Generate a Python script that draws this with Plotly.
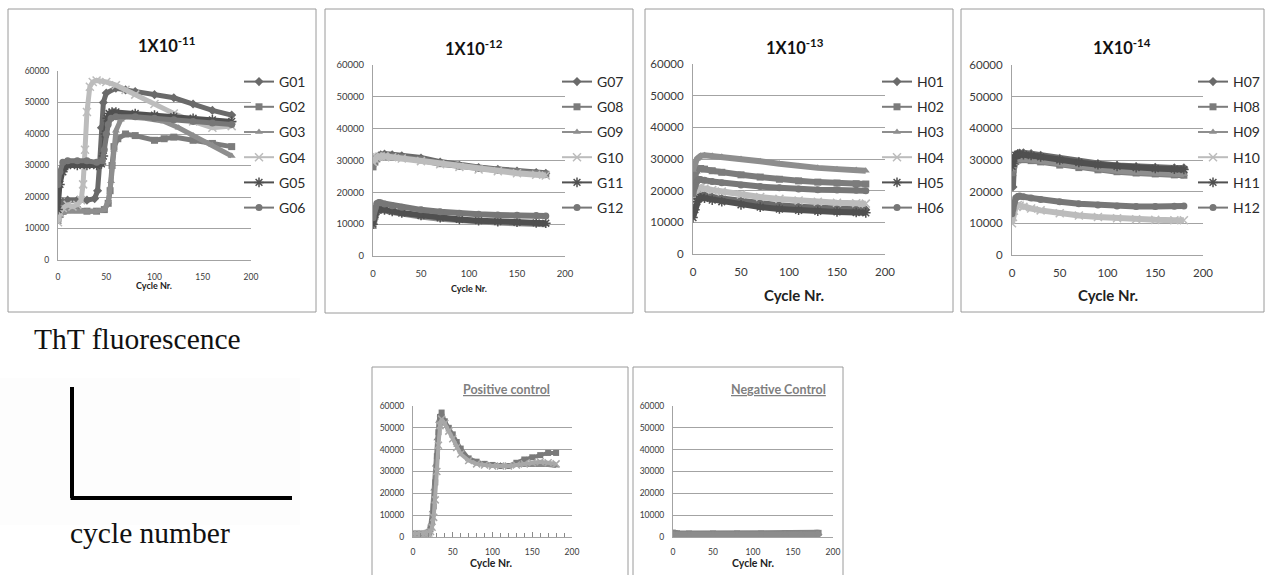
import plotly.graph_objects as go

# ---------------- data ----------------
# Panel 1X10^-11
g01_x = [0, 2, 5, 10, 20, 30, 38, 41, 43, 45, 47, 50, 60, 70, 80, 100, 120, 140, 160, 180]
g01_y = [14000, 17000, 18500, 19000, 19000, 19000, 19500, 22000, 30000, 42000, 50000, 53000, 54500, 54000, 53500, 52500, 51500, 49500, 47500, 46000]
g02_x = [0, 2, 5, 10, 20, 30, 40, 48, 52, 54, 56, 58, 62, 70, 80, 100, 110, 120, 140, 160, 180]
g02_y = [13000, 14500, 15500, 16000, 16000, 15500, 15500, 16000, 18000, 22000, 30000, 36000, 38500, 40000, 39500, 38000, 38500, 39000, 38000, 37000, 36000]
g03_x = [0, 2, 5, 10, 20, 30, 40, 48, 52, 55, 58, 60, 65, 70, 90, 110, 125, 140, 160, 180]
g03_y = [12000, 14000, 15000, 15500, 15500, 15500, 15500, 16000, 18500, 25000, 35000, 41000, 44500, 45500, 45000, 44000, 42000, 39500, 36500, 33000]
g04_x = [0, 2, 5, 10, 15, 20, 24, 26, 28, 30, 33, 36, 40, 50, 60, 70, 80, 100, 120, 140, 160, 180]
g04_y = [12000, 15000, 16500, 17500, 17000, 17500, 19000, 24000, 35000, 47000, 55000, 56500, 57000, 56500, 55500, 54000, 52500, 49500, 46500, 44000, 42000, 42500]
g05_x = [0, 2, 5, 10, 20, 30, 40, 45, 47, 49, 51, 53, 56, 60, 80, 100, 120, 140, 160, 180]
g05_y = [16000, 24000, 28000, 30000, 30000, 30000, 30000, 30500, 33000, 40000, 45000, 46500, 47000, 47000, 46500, 46000, 45500, 45000, 44500, 44000]
g06_x = [0, 2, 5, 10, 20, 30, 40, 46, 48, 50, 52, 55, 60, 80, 100, 120, 140, 160, 180]
g06_y = [24000, 28000, 31000, 31500, 31500, 31500, 31000, 31500, 35000, 40000, 43000, 45000, 45500, 45500, 45000, 44500, 44000, 43500, 43000]

# Panel 1X10^-12
p2_x = [0, 2, 4, 6, 8, 12, 20, 30, 50, 70, 90, 110, 130, 150, 170, 180]
g07_y = [29000, 30500, 31000, 31500, 31800, 32000, 31800, 31500, 30800, 29500, 28500, 27800, 27200, 26700, 26200, 26000]
g08_y = [28000, 29500, 30500, 31000, 31200, 31300, 31200, 30900, 30200, 29000, 28200, 27500, 27000, 26500, 25900, 25700]
g09_y = [9000, 12000, 14000, 14500, 14500, 14300, 13800, 13200, 12400, 11700, 11200, 10800, 10500, 10300, 10100, 10000]
g10_y = [29500, 30500, 31000, 31200, 31300, 31300, 31000, 30600, 29800, 28800, 28000, 27200, 26600, 26000, 25500, 25300]
g11_y = [10000, 13000, 14500, 15000, 14800, 14500, 14000, 13500, 12700, 12000, 11500, 11100, 10800, 10600, 10400, 10300]
g12_y = [12000, 15000, 16500, 16800, 16700, 16300, 15800, 15300, 14500, 13900, 13400, 13100, 12900, 12800, 12700, 12600]

# Panel 1X10^-13
p3_x = [0, 2, 4, 6, 8, 12, 20, 30, 50, 70, 90, 110, 130, 150, 170, 180]
h01_y = [15000, 17000, 18500, 19000, 18800, 18500, 18000, 17500, 16700, 16000, 15400, 14900, 14600, 14300, 14100, 14000]
h02_y = [22000, 25000, 26500, 27000, 27000, 26800, 26300, 25800, 25000, 24300, 23600, 23100, 22700, 22400, 22200, 22100]
h03_y = [26500, 28500, 30000, 30500, 31000, 31200, 31000, 30700, 30000, 29300, 28500, 27700, 27200, 26800, 26500, 26300]
h04_y = [16000, 19000, 20500, 21000, 21000, 20700, 20200, 19700, 18800, 18000, 17400, 16900, 16500, 16200, 16000, 15900]
h05_y = [11500, 14000, 16500, 17500, 17800, 17600, 17000, 16500, 15500, 14800, 14200, 13800, 13500, 13300, 13100, 13000]
h06_y = [19000, 21500, 23000, 23500, 23500, 23300, 22900, 22500, 21800, 21300, 20900, 20500, 20300, 20200, 20100, 20000]

# Panel 1X10^-14
p4_x = [0, 1, 2, 4, 6, 8, 12, 20, 30, 50, 70, 90, 110, 130, 150, 170, 180]
h07_y = [25000, 21500, 29000, 31500, 32000, 32200, 32300, 32000, 31500, 30500, 29600, 28900, 28300, 27900, 27700, 27500, 27500]
h08_y = [26000, 27000, 28500, 29500, 30000, 30200, 30100, 29800, 29400, 28400, 27600, 26900, 26300, 25900, 25600, 25300, 25200]
h09_y = [27000, 28000, 29000, 30000, 30300, 30500, 30400, 30100, 29700, 28700, 27900, 27200, 26600, 26200, 25900, 25600, 25500]
h10_y = [10000, 12000, 14000, 15500, 15800, 15600, 15200, 14700, 14100, 13200, 12500, 12000, 11600, 11300, 11100, 11000, 11000]
h11_y = [28000, 29000, 30500, 31500, 31800, 31800, 31700, 31400, 31000, 30000, 29200, 28500, 28000, 27600, 27300, 27100, 27000]
h12_y = [13000, 14500, 16500, 18000, 18500, 18600, 18400, 18000, 17500, 16800, 16200, 15800, 15500, 15300, 15300, 15400, 15500]

# Positive control
pc_x = [0, 5, 10, 15, 18, 20, 22, 24, 26, 28, 30, 32, 34, 36, 40, 45, 50, 55, 60, 70, 80, 90, 100, 110, 120, 130, 140, 150, 160, 170, 180]
pc1_y = [1500, 1500, 1400, 1500, 2000, 3000, 6000, 12000, 22000, 33000, 45000, 53000, 56000, 55000, 52000, 49000, 46000, 42000, 39000, 35500, 34000, 33500, 33000, 33000, 32500, 33000, 33000, 33000, 33000, 33000, 32500]
pc2_y = [1500, 1500, 1500, 1500, 1700, 2200, 3500, 7000, 14000, 25000, 37000, 48000, 55000, 57000, 53000, 50000, 47000, 43500, 40500, 36000, 34500, 33500, 33000, 32500, 32500, 34000, 35500, 36500, 37500, 38500, 38500]
pc3_y = [1500, 1500, 1500, 1500, 1600, 1800, 2500, 4500, 9000, 17000, 30000, 42000, 51000, 54000, 52000, 48500, 45000, 41000, 38000, 35000, 33500, 33000, 32500, 32500, 32500, 33000, 33500, 34000, 34500, 34000, 33500]

# Negative control
nc_x = [0, 2, 5, 20, 50, 80, 110, 140, 160, 180, 182]
nc1_y = [2000, 1800, 1700, 1600, 1600, 1600, 1600, 1700, 1800, 1900, 1900]
nc2_y = [1000, 900, 900, 900, 900, 900, 900, 1000, 1000, 1100, 1100]

titles = ["1X10<sup>-11</sup>", "1X10<sup>-12</sup>", "1X10<sup>-13</sup>", "1X10<sup>-14</sup>"]
x_ticks = [0, 50, 100, 150, 200]
y_ticks = [0, 10000, 20000, 30000, 40000, 50000, 60000]

# ---------------- layout helpers ----------------
W, H = 1266, 575
def px(v): return v / W
def py(v): return 1 - v / H

FONT = "Lato, 'Open Sans', sans-serif"
SERIF = "'Liberation Serif', 'DejaVu Serif', serif"
GRID = "#a3a3a3"
TICKC = "#3a3a3a"

colors = ["#6a6a6a", "#7c7c7c", "#8e8e8e", "#bcbcbc", "#505050", "#777777"]
symbols = ["diamond", "square", "triangle-up", "x-thin-open", "asterisk-open", "circle"]

panels = [
    dict(series=[("G01", g01_x, g01_y), ("G02", g02_x, g02_y), ("G03", g03_x, g03_y),
                 ("G04", g04_x, g04_y), ("G05", g05_x, g05_y), ("G06", g06_x, g06_y)],
         xd=(58, 251), yd=(71, 260), tick=8.5, xlab=9, box=(8, 9, 316, 312), lw=5,
         title=(166, 45), xlabpos=(154, 285), leg=(239, 66), stand=(6, 9)),
    dict(series=[("G07", p2_x, g07_y), ("G08", p2_x, g08_y), ("G09", p2_x, g09_y),
                 ("G10", p2_x, g10_y), ("G11", p2_x, g11_y), ("G12", p2_x, g12_y)],
         xd=(373, 565), yd=(65, 256), tick=9.5, xlab=9, box=(325, 9, 633, 313), lw=6,
         title=(474, 48), xlabpos=(469, 288), leg=(557, 66), stand=(6, 9)),
    dict(series=[("H01", p3_x, h01_y), ("H02", p3_x, h02_y), ("H03", p3_x, h03_y),
                 ("H04", p3_x, h04_y), ("H05", p3_x, h05_y), ("H06", p3_x, h06_y)],
         xd=(693, 885), yd=(64, 254), tick=11.5, xlab=15, box=(645, 9, 953, 312), lw=6,
         title=(795, 47), xlabpos=(794, 295), leg=(877, 66), stand=(6, 7)),
    dict(series=[("H07", p4_x, h07_y), ("H08", p4_x, h08_y), ("H09", p4_x, h09_y),
                 ("H10", p4_x, h10_y), ("H11", p4_x, h11_y), ("H12", p4_x, h12_y)],
         xd=(1012, 1203), yd=(65, 255), tick=11.5, xlab=15, box=(961, 9, 1264, 312), lw=6,
         title=(1122, 47), xlabpos=(1108, 295), leg=(1193, 66), stand=(6, 7)),
]

ctrl = [
    dict(series=[("PC1", pc_x, pc1_y, "#8a8a8a", "triangle-up"),
                 ("PC2", pc_x, pc2_y, "#7a7a7a", "square"),
                 ("PC3", pc_x, pc3_y, "#a8a8a8", "x-thin-open")],
         xd=(413, 572), yd=(406, 537), box=(372, 367, 628, 590),
         title="Positive control", tpos=(506, 389), xlabpos=(491, 563)),
    dict(series=[("NC1", nc_x, nc1_y, "#858585", "square"),
                 ("NC2", nc_x, nc2_y, "#8c8c8c", "diamond")],
         xd=(673, 833), yd=(406, 537), box=(633, 367, 843, 590),
         title="Negative Control", tpos=(778, 389), xlabpos=(753, 563)),
]

fig = go.Figure()
layout = dict(width=W, height=H, autosize=False,
              margin=dict(l=0, r=0, t=0, b=0, pad=0, autoexpand=False),
              paper_bgcolor="white", plot_bgcolor="white", showlegend=True)
shapes, annotations = [], []

def axis_pair(i, xd, yd, tick, stand, minor=False):
    xa = dict(domain=[px(xd[0]), px(xd[1])], range=[0, 200], tickvals=x_ticks,
              showgrid=False, zeroline=False, showline=True, linecolor=GRID, linewidth=1,
              ticks="", tickfont=dict(family=FONT, size=tick, color=TICKC),
              anchor="y%d" % i if i > 1 else "y", fixedrange=True, automargin=False,
              ticklabelstandoff=stand[1])
    if minor:
        xa.update(ticks="inside", ticklen=5, tickcolor="#8a8a8a",
                  minor=dict(dtick=10, ticks="inside", ticklen=4, tickcolor="#8a8a8a"))
    ya = dict(domain=[py(yd[1]), py(yd[0])], range=[0, 60000], tickvals=y_ticks,
              tickformat="d", showgrid=True, gridcolor=GRID, gridwidth=1, zeroline=False,
              showline=True, linecolor=GRID, linewidth=1, ticks="",
              tickfont=dict(family=FONT, size=tick, color=TICKC),
              anchor="x%d" % i if i > 1 else "x", fixedrange=True, automargin=False,
              ticklabelstandoff=stand[0])
    layout["xaxis" if i == 1 else "xaxis%d" % i] = xa
    layout["yaxis" if i == 1 else "yaxis%d" % i] = ya

def box(b):
    shapes.append(dict(type="rect", xref="paper", yref="paper", x0=px(b[0]), x1=px(b[2]),
                       y0=py(b[3]), y1=py(b[1]), line=dict(color="#9a9a9a", width=1),
                       fillcolor="rgba(0,0,0,0)", layer="below"))

def marker(sym, col, size):
    if sym.endswith("-open"):
        return dict(symbol=sym, size=size + 1, color=col, line=dict(color=col, width=1.5))
    return dict(symbol=sym, size=size, color=col, line=dict(width=0))

# ---------------- the four dilution panels ----------------
for i, p in enumerate(panels, start=1):
    axis_pair(i, p["xd"], p["yd"], p["tick"], p["stand"])
    box(p["box"])
    xr = "x" if i == 1 else "x%d" % i
    yr = "y" if i == 1 else "y%d" % i
    leg = "legend" if i == 1 else "legend%d" % i
    for k, (name, xs, ys) in enumerate(p["series"]):
        fig.add_trace(go.Scatter(x=xs, y=ys, mode="lines+markers", name=name,
                                 line=dict(color=colors[k], width=p["lw"]),
                                 marker=marker(symbols[k], colors[k], 7),
                                 xaxis=xr, yaxis=yr, showlegend=False, hoverinfo="skip"))
    for k, (name, xs, ys) in enumerate(p["series"]):
        fig.add_trace(go.Scatter(x=[None], y=[None], mode="lines+markers", name=name,
                                 line=dict(color=colors[k], width=2),
                                 marker=marker(symbols[k], colors[k], 7),
                                 xaxis=xr, yaxis=yr, legend=leg, legendgroup=name,
                                 showlegend=True))
    layout[leg] = dict(x=px(p["leg"][0]), y=py(p["leg"][1]), xanchor="left", yanchor="top",
                       bgcolor="rgba(0,0,0,0)", borderwidth=0, traceorder="grouped",
                       tracegroupgap=4, itemwidth=30,
                       font=dict(family=FONT, size=14, color="#2a2a2a"))
    annotations.append(dict(text="<b>%s</b>" % titles[i - 1], x=px(p["title"][0]),
                            y=py(p["title"][1]), xref="paper", yref="paper", showarrow=False,
                            xanchor="center", yanchor="middle",
                            font=dict(family=FONT, size=16.5, color="#111111")))
    annotations.append(dict(text="<b>Cycle Nr.</b>", x=px(p["xlabpos"][0]),
                            y=py(p["xlabpos"][1]), xref="paper", yref="paper", showarrow=False,
                            xanchor="center", yanchor="middle",
                            font=dict(family=FONT, size=p["xlab"], color="#222222")))

# ---------------- control panels ----------------
for j, c in enumerate(ctrl):
    i = 5 + j
    axis_pair(i, c["xd"], c["yd"], 8.5, (6, 7), minor=(j == 0))
    box(c["box"])
    for name, xs, ys, col, sym in c["series"]:
        fig.add_trace(go.Scatter(x=xs, y=ys, mode="lines+markers", name=name,
                                 line=dict(color=col, width=4 if j == 0 else 6),
                                 marker=marker(sym, col, 6),
                                 xaxis="x%d" % i, yaxis="y%d" % i, showlegend=False,
                                 hoverinfo="skip"))
    annotations.append(dict(text="<b>%s</b>" % c["title"], x=px(c["tpos"][0]), y=py(c["tpos"][1]),
                            xref="paper", yref="paper", showarrow=False,
                            xanchor="center", yanchor="middle",
                            font=dict(family=FONT, size=12.5, color="#7f7f7f", lineposition="under")))
    annotations.append(dict(text="<b>Cycle Nr.</b>", x=px(c["xlabpos"][0]), y=py(c["xlabpos"][1]),
                            xref="paper", yref="paper", showarrow=False,
                            xanchor="center", yanchor="middle",
                            font=dict(family=FONT, size=10.5, color="#222222")))

# ---------------- schematic on the left ----------------
shapes.append(dict(type="rect", xref="paper", yref="paper", x0=0, x1=px(300), y0=py(525), y1=py(378),
                   line=dict(width=0), fillcolor="#fdfdfd", layer="below"))
shapes.append(dict(type="line", xref="paper", yref="paper", x0=px(72), x1=px(72), y0=py(498), y1=py(387),
                   line=dict(color="black", width=4)))
shapes.append(dict(type="line", xref="paper", yref="paper", x0=px(70.5), x1=px(292), y0=py(498), y1=py(498),
                   line=dict(color="black", width=4)))
annotations.append(dict(text="ThT fluorescence", x=px(32), y=py(339), xref="paper", yref="paper",
                        showarrow=False, xanchor="left", yanchor="middle",
                        font=dict(family=SERIF, size=29.5, color="#111111")))
annotations.append(dict(text="cycle number", x=px(68), y=py(533), xref="paper", yref="paper",
                        showarrow=False, xanchor="left", yanchor="middle",
                        font=dict(family=SERIF, size=29.5, color="#111111")))

layout["shapes"] = shapes
layout["annotations"] = annotations
fig.update_layout(**layout)

fit_js = "document.body.style.margin='0';document.body.style.overflow='hidden';"
fig.write_html("out.html", config={"displayModeBar": False}, post_script=fit_js)
